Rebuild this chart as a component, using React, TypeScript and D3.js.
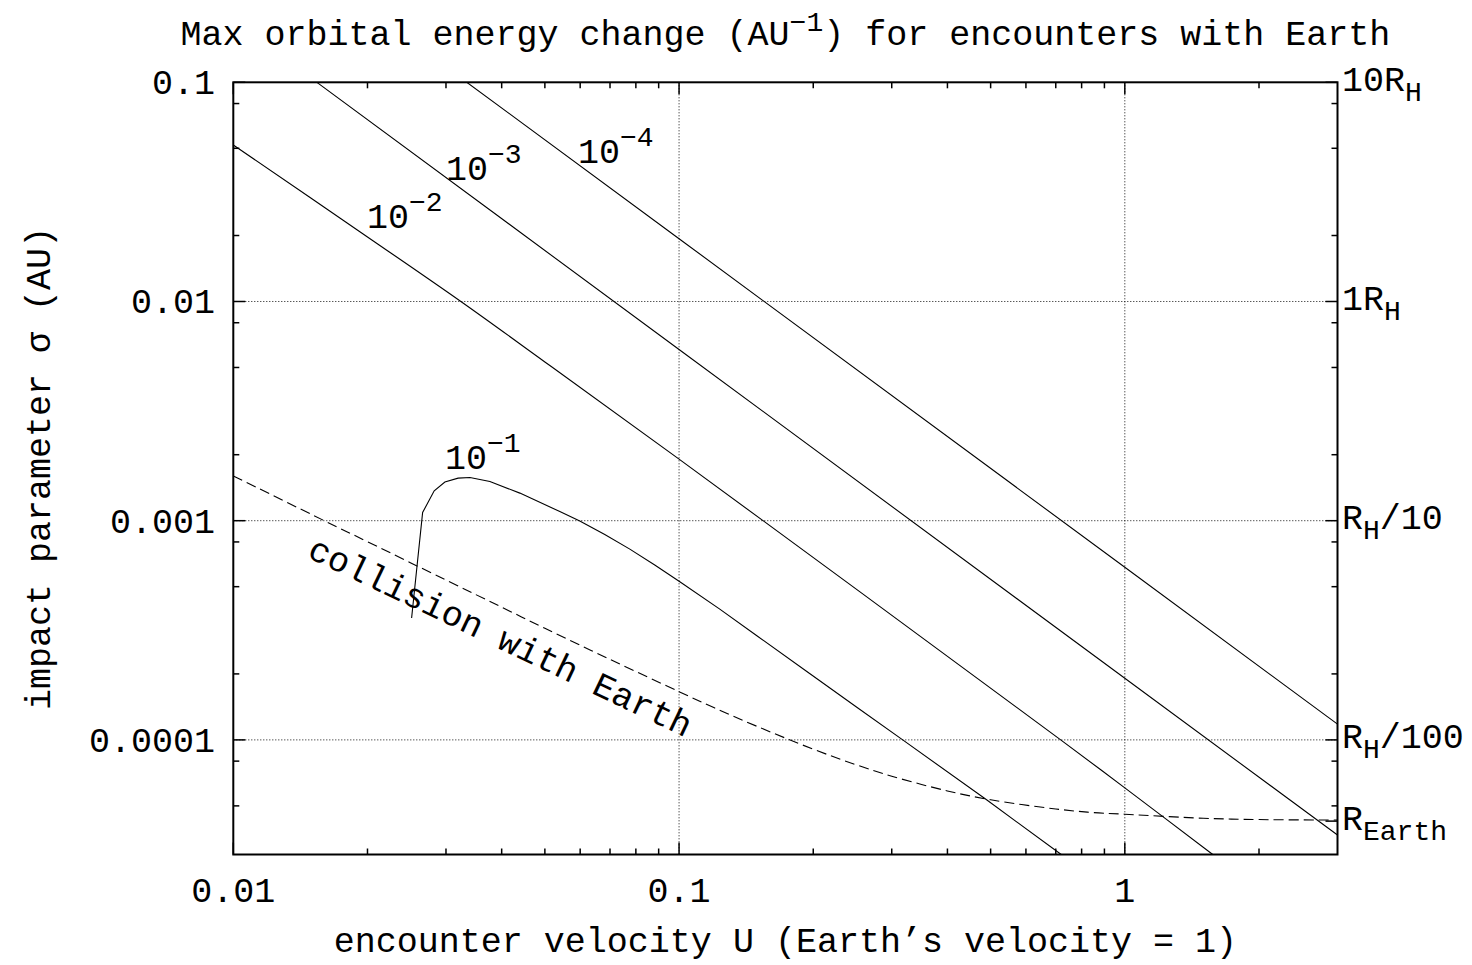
import React from "react";
import * as d3 from "d3";

// Axis ranges
const uDomain = [0.01, 3];
const sigmaDomain = [3e-5, 0.1];

// Labelled ticks
const uTicks = [0.01, 0.1, 1];
const uTickLabels = ["0.01", "0.1", "1"];
const sigmaTicks = [0.1, 0.01, 0.001, 0.0001];
const sigmaTickLabels = ["0.1", "0.01", "0.001", "0.0001"];

// Right-hand axis: Hill radius multiples and Earth's radius (AU)
const rightTicks = [0.1, 0.01, 0.001, 0.0001, 4.26e-5];
const rightMain = ["10R", "1R", "R", "R", "R"];
const rightSub = ["H", "H", "H", "H", "Earth"];
const rightTail = ["", "", "/10", "/100", ""];

// Minor tick multipliers
const uMinorMult = [2, 3, 4, 5, 6, 7, 8, 9];
const sigmaMinorMult = [2, 5, 8];

// Contours of max orbital energy change
const e4U = [0.0334, 0.1, 1, 3];
const e4S = [0.1, 0.01934, 6.13e-4, 1.18e-4];

const e3U = [0.01543, 0.1, 1, 3];
const e3S = [0.0997, 6.04e-3, 1.91e-4, 3.68e-5];

const e2U = [0.01, 0.02, 0.0324, 0.05, 0.1, 0.718, 1, 1.575];
const e2S = [0.0518, 0.0197, 0.01, 5.3e-3, 1.91e-3, 1e-4, 6.04e-5, 3e-5];

const e1U = [0.02512, 0.02659, 0.02823, 0.02983, 0.03194, 0.03395, 0.03764, 0.04394, 0.05401, 0.05988, 0.06813, 0.07754, 0.0882, 0.1004, 0.1234, 0.15, 0.1963, 0.25, 0.3175, 0.4896, 0.72];
const e1S = [3.6e-4, 1.09e-3, 1.369e-3, 1.5e-3, 1.564e-3, 1.574e-3, 1.509e-3, 1.336e-3, 1.101e-3, 9.97e-4, 8.65e-4, 7.42e-4, 6.28e-4, 5.27e-4, 3.95e-4, 2.97e-4, 2.01e-4, 1.413e-4, 1.0e-4, 5.33e-5, 3.0e-5];

// Collision boundary (gravitationally focused Earth cross-section)
const colU = [0.01, 0.016, 0.02, 0.03, 0.04, 0.05, 0.07, 0.1, 0.12, 0.15, 0.2, 0.25, 0.3, 0.4, 0.5, 0.7, 0.85, 1, 1.5, 2, 3];
const colS = [1.6e-3, 1.0e-3, 8.02e-4, 5.36e-4, 4.03e-4, 3.23e-4, 2.33e-4, 1.66e-4, 1.4e-4, 1.15e-4, 9.07e-5, 7.69e-5, 6.83e-5, 5.85e-5, 5.33e-5, 4.84e-5, 4.66e-5, 4.58e-5, 4.39e-5, 4.33e-5, 4.31e-5];

const W = 1472;
const H = 965;
const L = 233.3;
const R = 1337.5;
const T = 82.3;
const B = 854.5;

const FONT = "'Liberation Mono', 'Courier New', monospace";
const FS = 35;
const FS_SMALL = 28;

export default function App() {
  const x = d3.scaleLog().domain(uDomain).range([L, R]);
  const y = d3.scaleLog().domain(sigmaDomain).range([B, T]);

  const line = d3
    .line<[number, number]>()
    .x((d) => x(d[0]))
    .y((d) => y(d[1]));
  const smooth = d3
    .line<[number, number]>()
    .x((d) => x(d[0]))
    .y((d) => y(d[1]))
    .curve(d3.curveCatmullRom.alpha(0.5));

  const pts = (u: number[], s: number[]) => u.map((v, i) => [v, s[i]] as [number, number]);

  const uMinor: number[] = [];
  [0.01, 0.1, 1].forEach((dec) =>
    uMinorMult.forEach((m) => {
      const v = dec * m;
      if (v < uDomain[1] - 1e-9) uMinor.push(v);
    })
  );
  const sMinor: number[] = [];
  [1e-5, 1e-4, 1e-3, 1e-2].forEach((dec) =>
    sigmaMinorMult.forEach((m) => {
      const v = dec * m;
      if (v > sigmaDomain[0] * 1.0001 && v < sigmaDomain[1]) sMinor.push(v);
    })
  );

  const MAJ = 12;
  const MIN = 6;

  const contourLabel = (xx: number, yy: number, sup: string) => (
    <text x={xx} y={yy} fontSize={FS} fontFamily={FONT} fill="#000">
      10
      <tspan fontSize={FS_SMALL} dy={-17}>
        {sup}
      </tspan>
    </text>
  );

  return (
    <svg
      width={W}
      height={H}
      viewBox={`0 0 ${W} ${H}`}
      style={{ position: "absolute", left: 0, top: 0, background: "#fff" }}
    >
      <rect x={0} y={0} width={W} height={H} fill="#fff" />
      <defs>
        <clipPath id="plotArea">
          <rect x={L} y={T} width={R - L} height={B - T} />
        </clipPath>
      </defs>

      {/* grid */}
      <g stroke="#111" strokeWidth={1} strokeDasharray="1,2">
        {uTicks
          .filter((v) => v > uDomain[0])
          .map((v) => (
            <line key={"gx" + v} x1={x(v)} x2={x(v)} y1={T} y2={B} />
          ))}
        {sigmaTicks
          .filter((v) => v < sigmaDomain[1])
          .map((v) => (
            <line key={"gy" + v} x1={L} x2={R} y1={y(v)} y2={y(v)} />
          ))}
      </g>

      {/* curves */}
      <g clipPath="url(#plotArea)" fill="none" stroke="#000" strokeWidth={1.1}>
        <path d={line(pts(e4U, e4S)) || ""} />
        <path d={line(pts(e3U, e3S)) || ""} />
        <path d={smooth(pts(e2U, e2S)) || ""} />
        <path d={line(pts(e1U, e1S)) || ""} />
        <path d={smooth(pts(colU, colS)) || ""} strokeDasharray="10,5" />
      </g>

      {/* ticks */}
      <g stroke="#000" strokeWidth={1.5}>
        {uTicks.map((v) => (
          <g key={"tx" + v}>
            <line x1={x(v)} x2={x(v)} y1={B} y2={B - MAJ} />
            <line x1={x(v)} x2={x(v)} y1={T} y2={T + MAJ} />
          </g>
        ))}
        {uMinor.map((v) => (
          <g key={"mx" + v}>
            <line x1={x(v)} x2={x(v)} y1={B} y2={B - MIN} />
            <line x1={x(v)} x2={x(v)} y1={T} y2={T + MIN} />
          </g>
        ))}
        {sigmaTicks.map((v) => (
          <line key={"ty" + v} x1={L} x2={L + MAJ} y1={y(v)} y2={y(v)} />
        ))}
        {rightTicks.map((v) => (
          <line key={"ry" + v} x1={R} x2={R - MAJ} y1={y(v)} y2={y(v)} />
        ))}
        {sMinor.map((v) => (
          <g key={"my" + v}>
            <line x1={L} x2={L + MIN} y1={y(v)} y2={y(v)} />
            <line x1={R} x2={R - MIN} y1={y(v)} y2={y(v)} />
          </g>
        ))}
      </g>

      {/* frame */}
      <rect x={L} y={T} width={R - L} height={B - T} fill="none" stroke="#000" strokeWidth={2} />

      {/* tick labels */}
      <g fontFamily={FONT} fontSize={FS} fill="#000">
        {uTicks.map((v, i) => (
          <text key={"lx" + v} x={x(v)} y={902} textAnchor="middle">
            {uTickLabels[i]}
          </text>
        ))}
        {sigmaTicks.map((v, i) => (
          <text key={"ly" + v} x={215} y={y(v) + 12} textAnchor="end">
            {sigmaTickLabels[i]}
          </text>
        ))}
        {rightTicks.map((v, i) => (
          <text key={"lr" + v} x={1342} y={y(v) + 8.5}>
            {rightMain[i]}
            <tspan fontSize={FS_SMALL} dy={10}>
              {rightSub[i]}
            </tspan>
            {rightTail[i] ? <tspan dy={-10}>{rightTail[i]}</tspan> : null}
          </text>
        ))}
      </g>

      {/* contour labels */}
      {contourLabel(578, 162.7, "−4")}
      {contourLabel(446, 180, "−3")}
      {contourLabel(367, 228.3, "−2")}
      {contourLabel(445, 469.3, "−1")}

      <text
        transform="translate(499,640) rotate(25.5)"
        x={0}
        y={8}
        textAnchor="middle"
        fontFamily={FONT}
        fontSize={FS}
        fill="#000"
      >
        collision with Earth
      </text>

      {/* titles */}
      <text x={(L + R) / 2} y={45} textAnchor="middle" fontFamily={FONT} fontSize={FS} fill="#000">
        Max orbital energy change (AU
        <tspan fontSize={FS_SMALL} dy={-14}>
          −1
        </tspan>
        <tspan dy={14}>) for encounters with Earth</tspan>
      </text>
      <text x={(L + R) / 2} y={952} textAnchor="middle" fontFamily={FONT} fontSize={FS} fill="#000">
        encounter velocity U (Earth’s velocity = 1)
      </text>
      <text
        transform={`translate(50,${(T + B) / 2}) rotate(-90)`}
        textAnchor="middle"
        fontFamily={FONT}
        fontSize={FS}
        fill="#000"
      >
        impact parameter σ (AU)
      </text>
    </svg>
  );
}
